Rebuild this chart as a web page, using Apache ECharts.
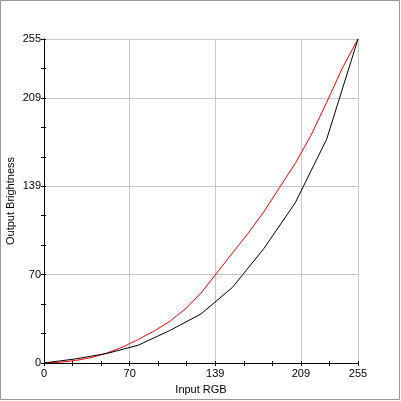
<!DOCTYPE html>
<html>
<head>
<meta charset="utf-8">
<script src="https://cdn.jsdelivr.net/npm/echarts@6/dist/echarts.min.js"></script>
<style>
html,body{margin:0;padding:0;background:#fff;}
#chart{width:401px;height:401px;}
</style>
</head>
<body>
<div id="chart"></div>
<script>
// Data
const blackX = [0, 25.5, 51, 76.5, 102, 127.5, 153, 178.5, 204, 229.5, 255];
const blackY = [0, 3.2, 7.5, 14, 25.5, 38.6, 59.5, 90, 126, 176, 255];
const redX = [0, 12.75, 25.5, 38.25, 51, 63.75, 76.5, 89.25, 102, 114.75, 127.5, 140.25, 153, 165.75, 178.5, 191.25, 204, 216.75, 229.5, 242.25, 255];
const redY = [0, 0.6, 2.0, 4.2, 7.8, 12.5, 18.5, 25.0, 32.7, 42.5, 55, 70.7, 86.5, 102, 119, 138, 157, 179, 205, 232, 255];
const axisMax = 255;
const tickCount = 11;
const labelledTicks = [0, 3, 6, 9, 11];
const xName = 'Input RGB';
const yName = 'Output Brightness';

const tickStep = axisMax / tickCount;
const gridColors = [];
for (let i = 0; i <= tickCount; i++) {
  gridColors.push(labelledTicks.indexOf(i) >= 0 && i > 0 ? '#c8c8c8' : 'rgba(0,0,0,0)');
}
function labelFmt(value) {
  const idx = Math.round(value / tickStep);
  return labelledTicks.indexOf(idx) >= 0 ? String(Math.round(value)) : '';
}
const font = { fontFamily: 'Liberation Sans, Arial, sans-serif', fontSize: 11, color: '#000' };

function mainAxis(isX) {
  return {
    type: 'value', min: 0, max: axisMax, interval: tickStep,
    position: isX ? 'bottom' : 'left',
    name: isX ? xName : yName,
    nameLocation: 'middle',
    nameGap: isX ? 21 : 28,
    nameMoveOverlap: false,
    nameTextStyle: font,
    axisLine: { show: true, lineStyle: { color: '#000', width: 1 } },
    axisTick: { show: true, inside: false, length: 3, lineStyle: { color: '#000', width: 1 } },
    axisLabel: Object.assign({ show: true, margin: isX ? 5 : 3, formatter: labelFmt, hideOverlap: false, showMinLabel: true, showMaxLabel: true }, font),
    splitLine: { show: true, lineStyle: { color: gridColors, width: 1 } }
  };
}
function innerAxis(isX) {
  return {
    type: 'value', min: 0, max: axisMax, interval: tickStep,
    position: isX ? 'bottom' : 'left',
    axisLine: { show: false },
    axisTick: { show: true, inside: true, length: 2, lineStyle: { color: '#000', width: 1 } },
    axisLabel: { show: false },
    splitLine: { show: false }
  };
}

const chart = echarts.init(document.getElementById('chart'), null, { renderer: 'canvas' });
chart.setOption({
  animation: false,
  backgroundColor: '#fff',
  graphic: [{
    type: 'rect', shape: { x: 0.5, y: 0.5, width: 399, height: 399 },
    style: { fill: 'none', stroke: '#999', lineWidth: 1 }, z: 100
  }],
  grid: { left: 44, top: 39, width: 314, height: 324, containLabel: false, outerBoundsMode: 'none' },
  xAxis: [mainAxis(true), innerAxis(true)],
  yAxis: [mainAxis(false), innerAxis(false)],
  series: [
    {
      type: 'line', name: 'red', xAxisIndex: 0, yAxisIndex: 0,
      data: redX.map((x, i) => [x, redY[i]]),
      symbol: 'none', lineStyle: { color: '#ff0000', width: 1 }, z: 3
    },
    {
      type: 'line', name: 'black', xAxisIndex: 0, yAxisIndex: 0,
      data: blackX.map((x, i) => [x, blackY[i]]),
      symbol: 'none', lineStyle: { color: '#000000', width: 1 }, z: 4
    }
  ]
});
</script>
</body>
</html>
